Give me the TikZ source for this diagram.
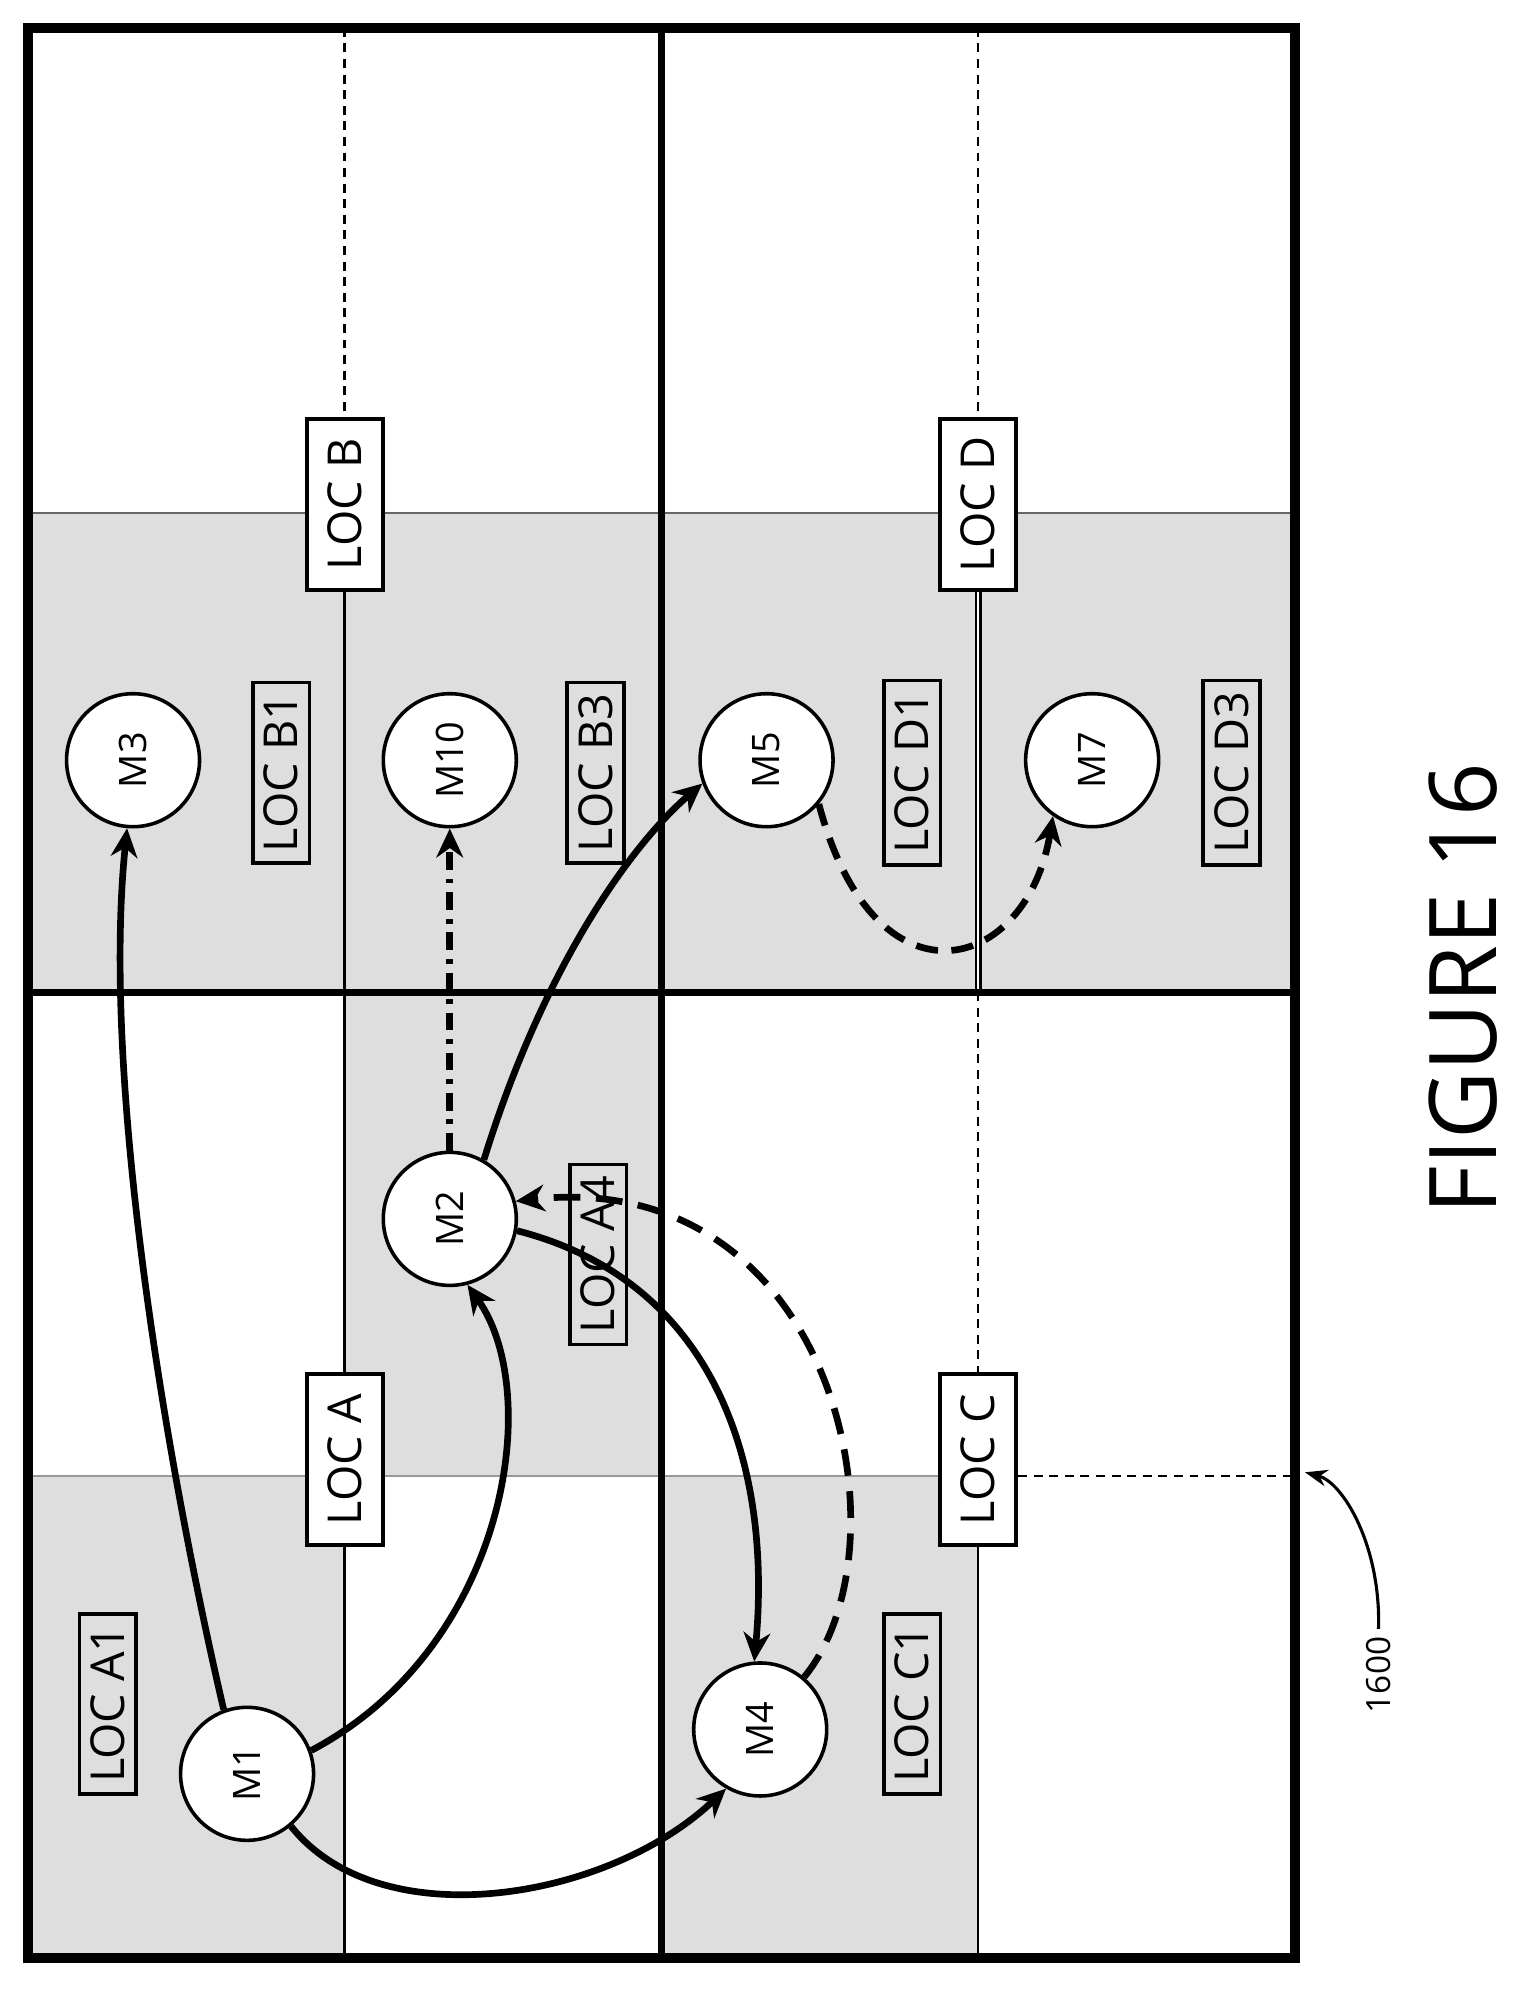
\documentclass[tikz,border=0pt]{standalone}
\usepackage{fontspec}
\setmainfont{Open Sans}
\usetikzlibrary{arrows.meta}
\begin{document}
\begin{tikzpicture}[x=0.02cm,y=-0.02cm,
  shade/.style={fill=black!13},
  frame/.style={line width=4.5pt},
  divider/.style={line width=3.2pt},
  thinline/.style={line width=1.1pt},
  dashline/.style={line width=1.1pt,dash pattern=on 4pt off 3pt},
  locbox/.style={draw,line width=1.8pt,fill=white,rotate=90,minimum width=2.7cm,minimum height=1.2cm,font=\fontsize{21}{23}\selectfont},
  loclabel/.style={draw,line width=1.6pt,rotate=90,inner xsep=5pt,inner ysep=5pt,font=\fontsize{21}{23}\selectfont},
  mnode/.style={draw,circle,line width=1.6pt,fill=white,minimum size=2.1cm,inner sep=0pt,font=\fontsize{17}{19}\selectfont},
  move/.style={line width=3pt,-{Stealth[length=13pt,width=12pt]}},
]
\useasboundingbox (0,0) rectangle (1200,1573);

% schattierte Bereiche
\fill[shade] (22,405) rectangle (1022,783);
\fill[shade] (272,783) rectangle (522,1165);
\fill[shade] (22,1165) rectangle (272,1545);
\fill[shade] (522,1165) rectangle (772,1545);
\draw[thinline,black!60] (22,405) -- (1022,405);
\draw[thinline,black!40] (22,1165) -- (772,1165);

% duenne Linien
\draw[dashline] (272,22) -- (272,405);
\draw[thinline] (272,405) -- (272,1545);
\draw[dashline] (772,22) -- (772,405);
\draw[thinline,double,double distance=1pt] (772,405) -- (772,783);
\draw[dashline] (772,783) -- (772,1165);
\draw[thinline] (772,1165) -- (772,1545);

% Rahmen
\draw[divider] (522,22) -- (522,1545);
\draw[divider] (22,783) -- (1022,783);
\draw[frame] (22,22) rectangle (1022,1545);

% Orte
\node[locbox] (locB) at (272,398) {LOC B};
\node[locbox] (locA) at (272,1152) {LOC A};
\node[locbox] (locD) at (772,398) {LOC D};
\node[locbox] (locC) at (772,1152) {LOC C};
\coordinate (edgeC) at (1022,1165);
\draw[dashline] (locC.south |- edgeC) -- (edgeC);

\node[loclabel] (lA1) at (85,1345) {LOC A1};
\node[loclabel] (lB1) at (222,610) {LOC B1};
\node[loclabel] (lB3) at (470,610) {LOC B3};
\node[loclabel] (lA4) at (472,990) {LOC A4};
\node[loclabel] (lD1) at (720,610) {LOC D1};
\node[loclabel] (lD3) at (972,610) {LOC D3};
\node[loclabel] (lC1) at (720,1345) {LOC C1};

% Knoten
\node[mnode] (m3) at (105,600) {\rotatebox{90}{M3}};
\node[mnode] (m10) at (355,600) {\rotatebox{90}{M10}};
\node[mnode] (m5) at (605,600) {\rotatebox{90}{M5}};
\node[mnode] (m7) at (862,600) {\rotatebox{90}{M7}};
\node[mnode] (m2) at (355,962) {\rotatebox{90}{M2}};
\node[mnode] (m1) at (195,1400) {\rotatebox{90}{M1}};
\node[mnode] (m4) at (600,1365) {\rotatebox{90}{M4}};

% Bewegungen
\draw[move] (m1.110) .. controls (130,1150) and (80,850) .. (m3.-95);
\draw[move] (m1.20) .. controls (400,1300) and (430,1100) .. (m2.-75);
\draw[move] (m1.-50) .. controls (300,1530) and (480,1500) .. (m4.-120);
\draw[move] (m2.60) .. controls (430,760) and (500,665) .. (m5.200);
\draw[move] (m2.-10) .. controls (560,1010) and (610,1150) .. (m4.95);
\draw[move,dash pattern=on 12pt off 7pt] (m4.50) .. controls (720,1220) and (660,920) .. (m2.15);
\draw[move,dash pattern=on 8pt off 4pt on 2pt off 4pt] (m2.90) -- (m10.-90);
\draw[move,dash pattern=on 10pt off 6pt] (m5.-40) .. controls (690,800) and (810,770) .. (m7.-125);

% Bezugszeichen
\node[rotate=90,font=\fontsize{15}{17}\selectfont] (ref) at (1088,1322) {1600};
\coordinate (refend) at (1030,1162);
\draw[line width=1.4pt,-{Stealth[length=10pt]}] (ref.east) .. controls (1090,1220) and (1060,1170) .. (refend);
\node[rotate=90,font=\fontsize{42}{46}\selectfont] (fig) at (1155,780) {FIGURE 16};
\end{tikzpicture}
\end{document}
